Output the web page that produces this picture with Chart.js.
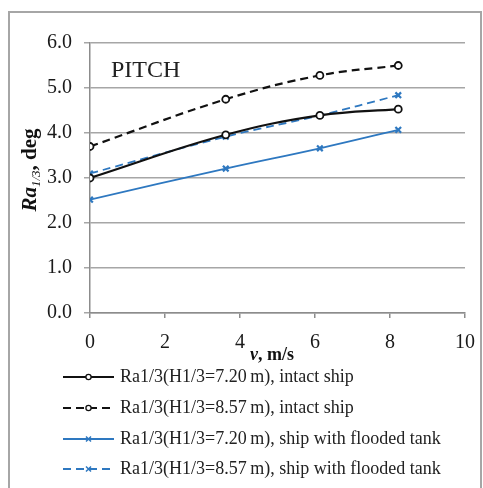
<!DOCTYPE html>
<html>
<head>
<meta charset="utf-8">
<script src="https://cdn.jsdelivr.net/npm/chart.js@4"></script>
<style>
  html, body { margin: 0; padding: 0; background: #fff; }
  #wrap { width: 483px; height: 488px; }
</style>
</head>
<body>
<div id="wrap"><canvas id="grafico" width="483" height="488"></canvas></div>
<script>
// dati
const velocita = [0, 3.62, 6.13, 8.22];
const intatta720 = [3.0, 3.96, 4.39, 4.53];
const intatta857 = [3.70, 4.75, 5.28, 5.50];
const allagata720 = [2.52, 3.21, 3.66, 4.07];
const allagata857 = [3.10, 3.92, 4.39, 4.84];
const etichette = [
  "Ra1/3(H1/3=7.20\u2009m), intact ship",
  "Ra1/3(H1/3=8.57\u2009m), intact ship",
  "Ra1/3(H1/3=7.20\u2009m), ship with flooded tank",
  "Ra1/3(H1/3=8.57\u2009m), ship with flooded tank"
];
const xTicks = [0, 2, 4, 6, 8, 10];
const yTicks = [0, 1, 2, 3, 4, 5, 6];

const NERO = "#111111";
const BLU = "#2e78c0";
const SERIF = "'Liberation Serif', 'DejaVu Serif', serif";

function serie(valori, label, colore, tratteggio, stile) {
  return {
    label,
    data: velocita.map((v, i) => ({ x: v, y: valori[i] })),
    borderColor: colore,
    backgroundColor: stile === "circle" ? "#fff" : colore,
    borderWidth: colore === NERO ? 2.2 : 1.8,
    borderDash: tratteggio ? [8, 5] : [],
    pointStyle: stile,
    pointRadius: stile === "circle" ? 3.5 : 4,
    pointBorderWidth: stile === "circle" ? 1.8 : 2.2,
    pointBorderColor: colore,
    pointBackgroundColor: stile === "circle" ? "#fff" : colore,
    tension: 0.4,
    fill: false
  };
}

// üñåÔ∏è cornice, titoli e legenda disegnati a mano
const decorazioni = {
  id: "decorazioni",
  beforeDraw(chart) {
    const ctx = chart.ctx;
    ctx.save();
    ctx.fillStyle = "#fff";
    ctx.fillRect(0, 0, chart.width, chart.height);
    ctx.strokeStyle = "#a6a6a6";
    ctx.lineWidth = 2;
    ctx.strokeRect(9, 12, 472, 500);
    ctx.restore();
  },
  afterDraw(chart) {
    const ctx = chart.ctx;
    ctx.save();

    // PITCH
    ctx.fillStyle = "#222";
    ctx.font = "24px " + SERIF;
    ctx.textBaseline = "middle";
    ctx.textAlign = "left";
    ctx.fillText("PITCH", 111, 71);

    // titolo asse y: Ra_{1/3}, deg
    ctx.save();
    ctx.translate(29, 170);
    ctx.rotate(-Math.PI / 2);
    const f1 = "italic bold 21px " + SERIF;
    const f2 = "italic 13px " + SERIF;
    const f3 = "bold 21px " + SERIF;
    ctx.font = f1; const w1 = ctx.measureText("Ra").width;
    ctx.font = f2; const w2 = ctx.measureText("1/3").width;
    ctx.font = f3; const w3 = ctx.measureText(", deg").width;
    let x = -(w1 + w2 + w3) / 2;
    ctx.textBaseline = "alphabetic";
    ctx.fillStyle = "#111";
    ctx.font = f1; ctx.fillText("Ra", x, 7); x += w1;
    ctx.font = f2; ctx.fillText("1/3", x, 11); x += w2;
    ctx.font = f3; ctx.fillText(", deg", x, 7);
    ctx.restore();

    // titolo asse x: v, m/s
    ctx.fillStyle = "#111";
    ctx.textBaseline = "middle";
    ctx.font = "italic bold 18px " + SERIF;
    const wv = ctx.measureText("v").width;
    ctx.fillText("v", 250, 355);
    ctx.font = "bold 18px " + SERIF;
    ctx.fillText(", m/s", 250 + wv, 355);

    // legenda
    const righe = [377, 408, 439, 469];
    chart.data.datasets.forEach((ds, i) => {
      const y = righe[i];
      ctx.strokeStyle = ds.borderColor;
      ctx.lineWidth = ds.borderWidth;
      ctx.setLineDash(ds.borderDash);
      ctx.beginPath();
      ctx.moveTo(63, y);
      ctx.lineTo(114, y);
      ctx.stroke();
      ctx.setLineDash([]);
      if (ds.pointStyle === "circle") {
        ctx.fillStyle = "#fff";
        ctx.lineWidth = 1.3;
        ctx.beginPath();
        ctx.arc(88.5, y, 2.6, 0, Math.PI * 2);
        ctx.fill();
        ctx.stroke();
      } else {
        ctx.lineWidth = 1.5;
        ctx.beginPath();
        ctx.moveTo(86, y - 2.5); ctx.lineTo(91, y + 2.5);
        ctx.moveTo(91, y - 2.5); ctx.lineTo(86, y + 2.5);
        ctx.stroke();
      }
      ctx.fillStyle = "#222";
      ctx.font = "18px " + SERIF;
      ctx.textBaseline = "middle";
      ctx.fillText(ds.label, 120, y);
    });
    ctx.restore();
  }
};

new Chart(document.getElementById("grafico"), {
  type: "line",
  data: {
    datasets: [
      serie(intatta720, etichette[0], NERO, false, "circle"),
      serie(intatta857, etichette[1], NERO, true, "circle"),
      serie(allagata720, etichette[2], BLU, false, "crossRot"),
      serie(allagata857, etichette[3], BLU, true, "crossRot")
    ]
  },
  options: {
    responsive: false,
    animation: false,
    layout: { padding: { left: 0, top: 43, right: 18, bottom: 130 } },
    plugins: {
      legend: { display: false },
      tooltip: { enabled: false }
    },
    scales: {
      x: {
        type: "linear",
        min: 0,
        max: 10,
        afterBuildTicks: axis => { axis.ticks = xTicks.map(v => ({ value: v })); },
        afterFit: axis => { axis.height = 45; axis.paddingLeft = 0; axis.paddingRight = 0; },
        grid: { drawOnChartArea: false, drawTicks: true, tickLength: 5, color: "#8c8c8c", lineWidth: 1.5 },
        border: { color: "#8c8c8c", width: 1.5 },
        ticks: { color: "#1a1a1a", font: { family: SERIF, size: 20 }, padding: 13, maxRotation: 0 }
      },
      y: {
        min: 0,
        max: 6,
        afterBuildTicks: axis => { axis.ticks = yTicks.map(v => ({ value: v })); },
        afterFit: axis => { axis.width = 90; axis.paddingTop = 0; axis.paddingBottom = 0; },
        grid: { color: "#a6a6a6", lineWidth: 1.5, tickLength: 6 },
        border: { color: "#8c8c8c", width: 1.5 },
        ticks: {
          color: "#1a1a1a",
          font: { family: SERIF, size: 20 },
          padding: 12,
          callback: v => v.toFixed(1)
        }
      }
    }
  },
  plugins: [decorazioni]
});
</script>
</body>
</html>
